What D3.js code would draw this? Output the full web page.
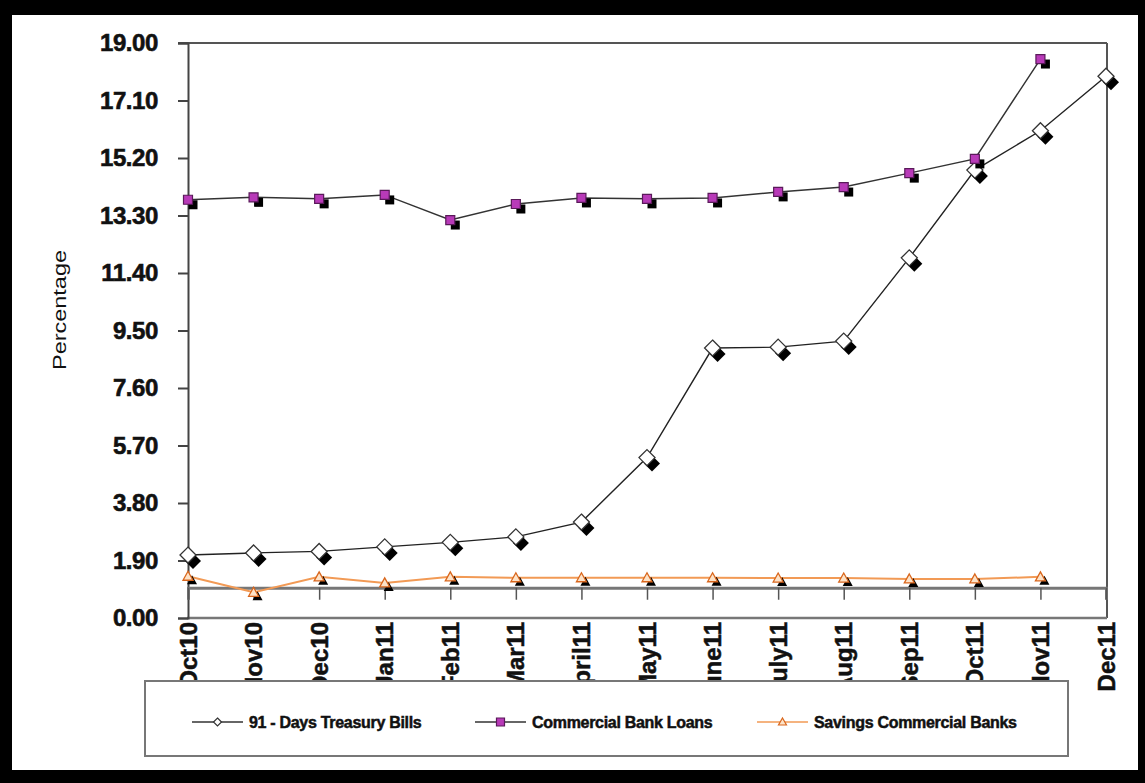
<!DOCTYPE html>
<html>
<head>
<meta charset="utf-8">
<script src="https://cdn.jsdelivr.net/npm/d3@7/dist/d3.min.js"></script>
<style>
  html, body { margin: 0; padding: 0; background: #fff; }
  svg { display: block; }
  text { font-family: "Liberation Sans", Arial, sans-serif; }
</style>
</head>
<body>
<svg id="chart" width="1145" height="783"></svg>
<script>
const categories = ["Oct10","Nov10","Dec10","Jan11","Feb11","Mar11","April11","May11","June11","July11","Aug11","Sep11","Oct11","Nov11","Dec11"];
const treasuryBills = [2.08, 2.15, 2.2, 2.35, 2.5, 2.68, 3.17, 5.3, 8.92, 8.95, 9.15, 11.9, 14.8, 16.1, 17.9];
const commercialLoans = [13.82, 13.9, 13.85, 13.98, 13.15, 13.68, 13.88, 13.85, 13.88, 14.08, 14.24, 14.7, 15.17, 18.47, null];
const savingsRates = [1.38, 0.85, 1.36, 1.16, 1.36, 1.33, 1.33, 1.33, 1.33, 1.32, 1.32, 1.29, 1.29, 1.36, null];
const yTicks = [0, 1.9, 3.8, 5.7, 7.6, 9.5, 11.4, 13.3, 15.2, 17.1, 19.0];
const crossValue = 1.0;
const seriesNames = ["91 - Days Treasury Bills", "Commercial Bank Loans", "Savings Commercial Banks"];

const svg = d3.select("#chart");
const W = 1145, H = 783;

// outer frame
svg.append("rect").attr("x", 0).attr("y", 0).attr("width", W).attr("height", H).attr("fill", "#000");
svg.append("rect").attr("x", 12).attr("y", 15).attr("width", 1138 - 12).attr("height", 770 - 15).attr("fill", "#fff");

const x = d3.scalePoint().domain(categories).range([188, 1106]);
const y = d3.scaleLinear().domain([0, 19]).range([618, 43]);

// plot frame (top + right + bottom)
svg.append("line").attr("x1", 178).attr("x2", 1107).attr("y1", y(19)).attr("y2", y(19)).attr("stroke", "#555").attr("stroke-width", 2);
svg.append("line").attr("x1", 1107).attr("x2", 1107).attr("y1", y(19)).attr("y2", y(0)).attr("stroke", "#555").attr("stroke-width", 2);
svg.append("line").attr("x1", 187).attr("x2", 1107).attr("y1", y(0)).attr("y2", y(0)).attr("stroke", "#777").attr("stroke-width", 2.5);

// y axis
const yAxis = d3.axisLeft(y).tickValues(yTicks).tickFormat(d3.format(".2f")).tickSize(10).tickPadding(20);
const gy = svg.append("g").attr("transform", "translate(188,0)").call(yAxis);
gy.select(".domain").attr("stroke", "#444").attr("stroke-width", 2);
gy.selectAll(".tick line").attr("stroke", "#444").attr("stroke-width", 2);
gy.selectAll(".tick text")
  .attr("font-family", "'Liberation Sans', Arial, sans-serif")
  .attr("font-size", 24).attr("font-weight", "bold").attr("fill", "#111")
  .attr("stroke", "#111").attr("stroke-width", 0.6)
  .attr("letter-spacing", "-0.4px");

// crossing axis line (grey) with category ticks hanging below
const xAxis = d3.axisBottom(x).tickSize(12).tickFormat("");
const gx = svg.append("g").attr("transform", `translate(0,${y(crossValue)})`).call(xAxis);
gx.select(".domain").attr("stroke", "#777").attr("stroke-width", 3);
gx.selectAll(".tick line").attr("stroke", "#555").attr("stroke-width", 1.5);

// x labels rotated, anchored under the plot
svg.append("g").selectAll("text").data(categories).join("text")
  .attr("transform", d => `translate(${x(d)},${y(0) + 4}) rotate(-90)`)
  .attr("text-anchor", "end").attr("dy", "0.36em")
  .attr("font-size", 24).attr("font-weight", "bold").attr("fill", "#111")
  .attr("stroke", "#111").attr("stroke-width", 0.5)
  .text(d => d);

// y title
svg.append("text").attr("transform", "translate(60,310) rotate(-90)")
  .attr("text-anchor", "middle").attr("dy", "0.35em")
  .attr("font-size", 18).attr("fill", "#111")
  .attr("textLength", 120).attr("lengthAdjust", "spacingAndGlyphs")
  .text("Percentage");

function pts(arr) { return categories.map((c, i) => ({ c, v: arr[i] })).filter(d => d.v !== null); }
const line = d3.line().x(d => x(d.c)).y(d => y(d.v));

const diamondPath = "M0,-8L8,0L0,8L-8,0Z";
const squarePath = "M-4.5,-4.5H4.5V4.5H-4.5Z";
const triPath = "M0,-5L5,4H-5Z";

// savings
const sv = pts(savingsRates);
svg.append("path").datum(sv).attr("d", line).attr("fill", "none").attr("stroke", "#f29a55").attr("stroke-width", 2);
svg.append("g").selectAll("path").data(sv).join("path")
  .attr("transform", d => `translate(${x(d.c) + 4},${y(d.v) + 4})`).attr("d", triPath).attr("fill", "#000");
svg.append("g").selectAll("path").data(sv).join("path")
  .attr("transform", d => `translate(${x(d.c)},${y(d.v)})`).attr("d", triPath)
  .attr("fill", "#fde3c8").attr("stroke", "#d9661c").attr("stroke-width", 1.3);

// treasury
const tb = pts(treasuryBills);
svg.append("path").datum(tb).attr("d", line).attr("fill", "none").attr("stroke", "#222").attr("stroke-width", 1.4);
svg.append("g").selectAll("path").data(tb).join("path")
  .attr("transform", d => `translate(${x(d.c) + 5},${y(d.v) + 6})`).attr("d", diamondPath).attr("fill", "#000");
svg.append("g").selectAll("path").data(tb).join("path")
  .attr("transform", d => `translate(${x(d.c)},${y(d.v)})`).attr("d", diamondPath)
  .attr("fill", "#fff").attr("stroke", "#333").attr("stroke-width", 1.3);

// commercial loans
const cl = pts(commercialLoans);
svg.append("path").datum(cl).attr("d", line).attr("fill", "none").attr("stroke", "#333").attr("stroke-width", 1.5);
svg.append("g").selectAll("path").data(cl).join("path")
  .attr("transform", d => `translate(${x(d.c) + 5},${y(d.v) + 5})`).attr("d", squarePath).attr("fill", "#000");
svg.append("g").selectAll("path").data(cl).join("path")
  .attr("transform", d => `translate(${x(d.c)},${y(d.v)})`).attr("d", squarePath)
  .attr("fill", "#b83ab8").attr("stroke", "#5a1a5a").attr("stroke-width", 1.2);

// legend box (covers lower part of x labels)
svg.append("rect").attr("x", 145).attr("y", 681).attr("width", 923).attr("height", 75)
  .attr("fill", "#fff").attr("stroke", "#777").attr("stroke-width", 2);

const legendItems = [
  { name: seriesNames[0], x0: 192, stroke: "#333", path: "M0,-4L4,0L0,4L-4,0Z", fill: "#fff", mstroke: "#333" },
  { name: seriesNames[1], x0: 475, stroke: "#333", path: "M-4,-4H4V4H-4Z", fill: "#b83ab8", mstroke: "#5a1a5a" },
  { name: seriesNames[2], x0: 757, stroke: "#f29a55", path: "M0,-4L4,3H-4Z", fill: "#fde3c8", mstroke: "#d9661c" }
];
const lg = svg.append("g").selectAll("g").data(legendItems).join("g")
  .attr("transform", d => `translate(${d.x0},722)`);
lg.append("line").attr("x1", 0).attr("x2", 51).attr("stroke", d => d.stroke).attr("stroke-width", 1.5);
lg.append("path").attr("transform", "translate(25.5,0)").attr("d", d => d.path)
  .attr("fill", d => d.fill).attr("stroke", d => d.mstroke).attr("stroke-width", 1.2);
lg.append("text").attr("x", 57).attr("dy", "0.35em")
  .attr("font-size", 16).attr("font-weight", "bold").attr("fill", "#111")
  .attr("stroke", "#111").attr("stroke-width", 0.5).attr("letter-spacing", "-0.3px")
  .text(d => d.name);
</script>
</body>
</html>
